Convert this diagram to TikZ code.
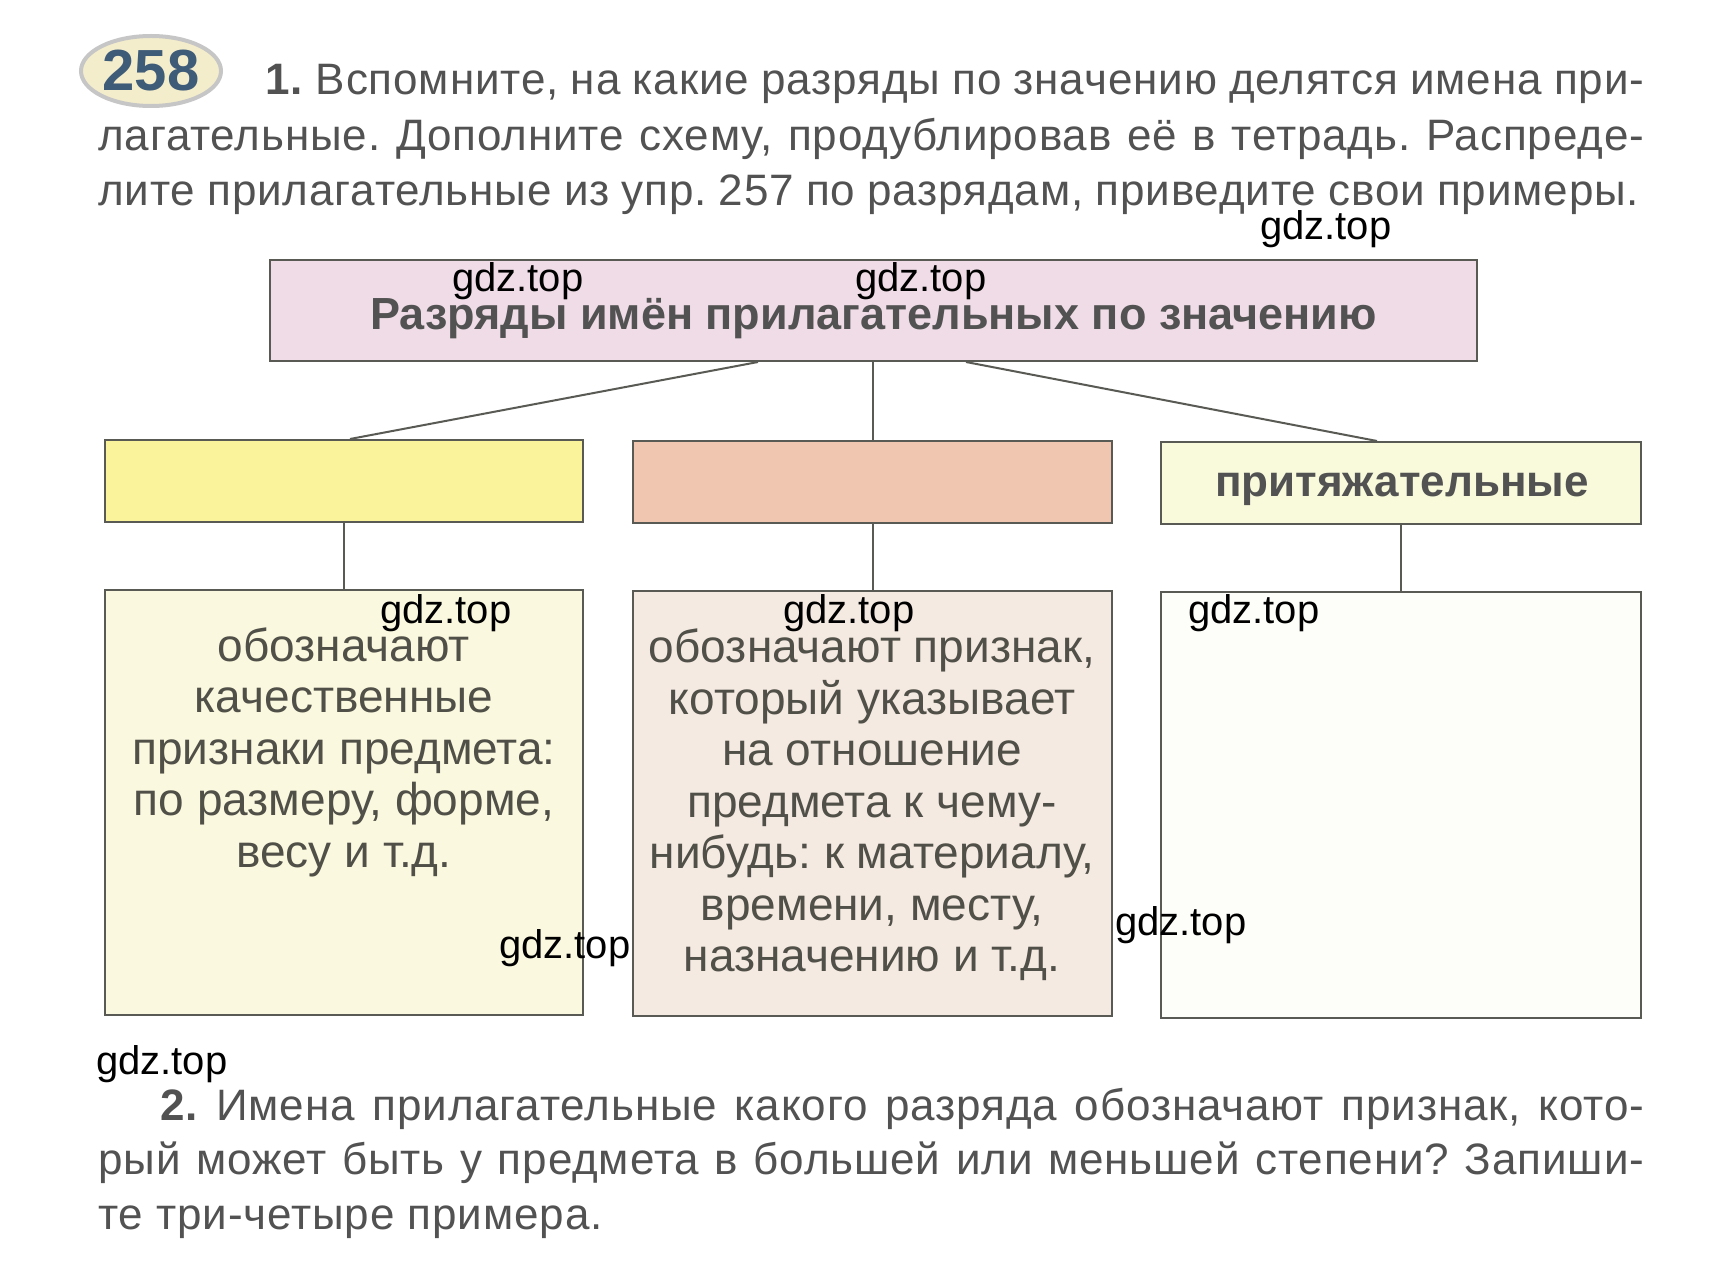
\documentclass[tikz,border=0pt]{standalone}
\usepackage{fontspec}
\usetikzlibrary{shapes.geometric}
\setmainfont{Liberation Sans}
\newfontfamily\parafont[LetterSpace=2]{Liberation Sans}
\frenchspacing
\definecolor{txt}{HTML}{525252}
\definecolor{boxtxt}{HTML}{505048}
\definecolor{edge}{HTML}{5A5A55}
\definecolor{hdrfill}{HTML}{EFDCE6}
\definecolor{ylw}{HTML}{FAF39C}
\definecolor{salmon}{HTML}{F1C6B1}
\definecolor{pale}{HTML}{F8FADB}
\definecolor{lbfill}{HTML}{FAF8DE}
\definecolor{mbfill}{HTML}{F4EAE2}
\definecolor{rbfill}{HTML}{FDFDF9}
\definecolor{numblue}{HTML}{3E5B78}
\definecolor{ovalfill}{HTML}{F4EDCB}
\tikzset{
  box/.style={draw=edge, line width=2pt, inner sep=0pt, rectangle},
  conn/.style={draw=edge, line width=2pt},
  para/.style={anchor=west, inner sep=0pt, text=txt, font=\parafont\fontsize{44}{50}\selectfont},
  boxtext/.style={align=center, inner sep=0pt, text=boxtxt, font=\fontsize{46}{51.5}\selectfont},
  wm/.style={anchor=west, inner sep=0pt, text=black, font=\fontsize{40}{46}\selectfont}
}
\begin{document}
\begin{tikzpicture}[x=1pt,y=-1pt]
\useasboundingbox[fill=white] (0,0) rectangle (1713,1265);

% number oval
\node[ellipse, draw=gray!45, line width=4pt, fill=ovalfill, minimum width=140pt, minimum height=70pt, inner sep=0pt] (oval) at (151,71) {};
\node[text=numblue, font=\bfseries\fontsize{58}{60}\selectfont, inner sep=0pt] (num) at (oval.center) {258};

% exercise 1 text
\node[para] (p1) at (265,84) {\makebox[1379pt][s]{\textbf{1.} Вспомните, на какие разряды по значению делятся имена при-}};
\node[para] (p2) at (98,139) {\makebox[1546pt][s]{лагательные. Дополните схему, продублировав её в тетрадь. Распреде-}};
\node[para] (p3) at (98,195) {\makebox[1541pt][s]{лите прилагательные из упр. 257 по разрядам, приведите свои примеры.}};

% header box
\node[box, fill=hdrfill, minimum width=1207pt, minimum height=101pt] (hdr) at (873.5,310.5) {};
\node[text=txt, font=\bfseries\fontsize{45}{48}\selectfont, inner sep=0pt] (hdrt) at (873.5,319) {Разряды имён прилагательных по значению};

% category boxes
\node[box, fill=ylw, minimum width=478pt, minimum height=82pt] (lt) at (344,481) {};
\node[box, fill=salmon, minimum width=479pt, minimum height=82pt] (mt) at (872.5,482) {};
\node[box, fill=pale, minimum width=480pt, minimum height=82pt] (rt) at (1401,483) {};
\node[text=txt, font=\bfseries\fontsize{44}{48}\selectfont, inner sep=0pt] (rtt) at (1402,489) {притяжательные};

% description boxes
\node[box, fill=lbfill, minimum width=478pt, minimum height=425pt] (lb) at (344,802.5) {};
\node[box, fill=mbfill, minimum width=479pt, minimum height=425pt] (mb) at (872.5,803.5) {};
\node[box, fill=rbfill, minimum width=480pt, minimum height=426pt] (rb) at (1401,805) {};

\node[boxtext] (lbt) at (344,752) {обозначают\\качественные\\признаки предмета:\\по размеру, форме,\\весу и т.д.};
\node[boxtext] (mbt) at (872,805) {обозначают признак,\\который указывает\\на отношение\\предмета к чему-\\нибудь: к материалу,\\времени, месту,\\назначению и т.д.};

% connectors
\draw[conn] ([xshift=-115.5pt]hdr.south) -- ([xshift=6pt]lt.north);
\draw[conn] (mt.north |- hdr.south) -- (mt.north);
\draw[conn] ([xshift=92.5pt]hdr.south) -- ([xshift=-24pt]rt.north);
\draw[conn] (lt.south) -- (lb.north);
\draw[conn] (mt.south) -- (mb.north);
\draw[conn] (rt.south) -- (rb.north);

% exercise 2 text
\node[para] (q1) at (160,1109) {\makebox[1484pt][s]{\textbf{2.} Имена прилагательные какого разряда обозначают признак, кото-}};
\node[para] (q2) at (98,1163) {\makebox[1546pt][s]{рый может быть у предмета в большей или меньшей степени? Запиши-}};
\node[para] (q3) at (98,1222) {те три-четыре примера.};

% watermarks
\node[wm] (w1) at (1260,229) {gdz.top};
\node[wm] (w2) at (452,281) {gdz.top};
\node[wm] (w3) at (855,281) {gdz.top};
\node[wm] (w4) at (380,613) {gdz.top};
\node[wm] (w5) at (783,613) {gdz.top};
\node[wm] (w6) at (1188,613) {gdz.top};
\node[wm] (w7) at (499,948) {gdz.top};
\node[wm] (w8) at (1115,925) {gdz.top};
\node[wm] (w9) at (96,1064) {gdz.top};
\end{tikzpicture}
\end{document}
